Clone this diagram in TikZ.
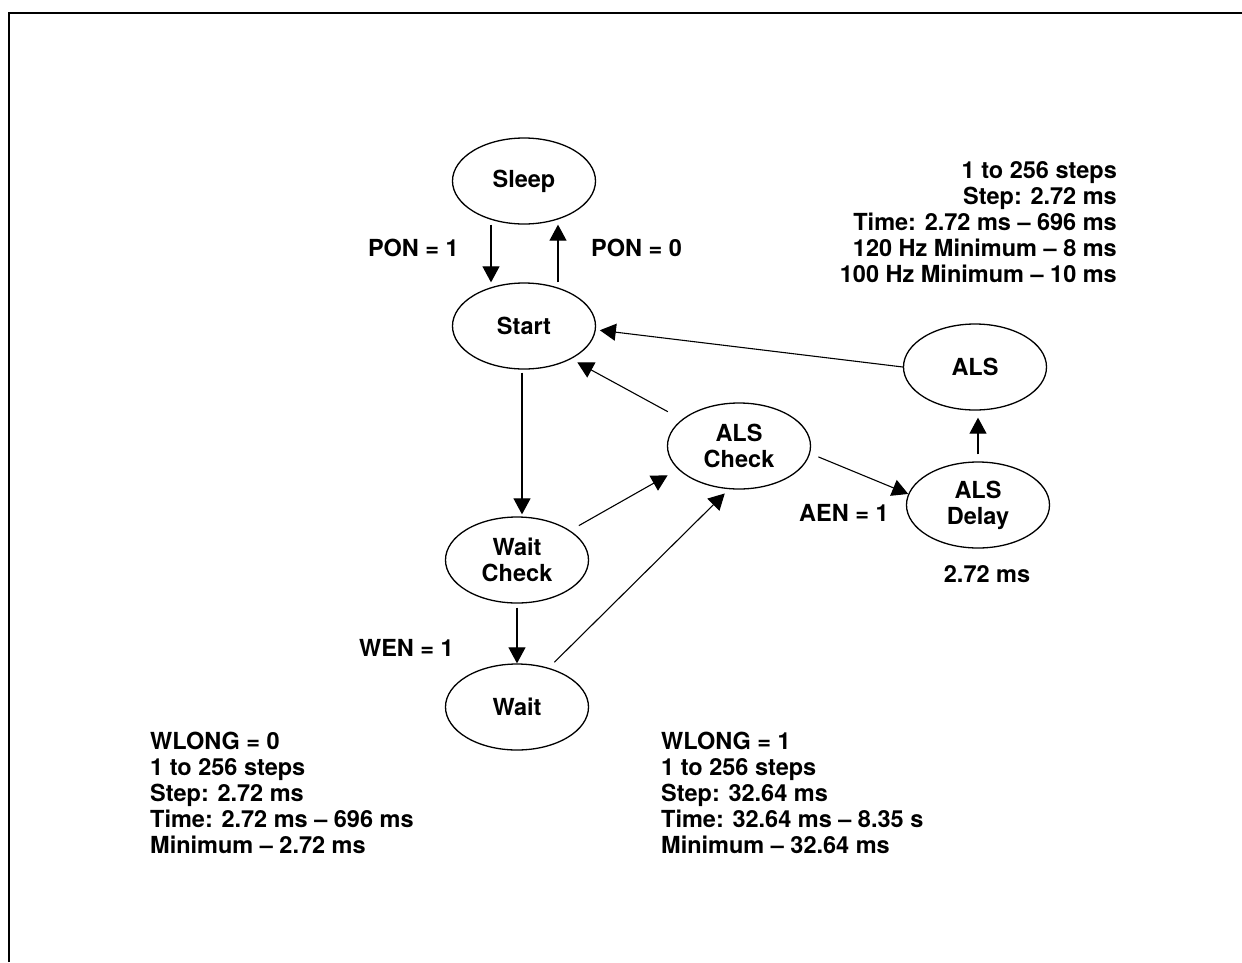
\documentclass[tikz,border=0pt]{standalone}
\usepackage{fontspec}
\setmainfont{TeX Gyre Heros}
\usetikzlibrary{arrows.meta,shapes.geometric}

\begin{document}
\begin{tikzpicture}[
  x=1pt, y=-1pt,
  every node/.style={font=\fontsize{23.5}{26}\selectfont\bfseries, inner sep=0pt},
  state/.style={
    draw, ellipse, line width=1.3pt,
    minimum width=143pt, minimum height=86pt, align=center,
  },
  trans/.style={-{Triangle[length=16pt,width=17pt]}, line width=1.1pt},
  note/.style={align=left},
]
  \useasboundingbox (0,0) rectangle (1242,962);
  % Open frame (top and left edges)
  \draw[line width=2.2pt] (9,962) -- (9,13) -- (1242,13);

  % States
  \node[state] (sleep)     at (524,181) {Sleep};
  \node[state] (start)     at (524,326) {Start};
  \node[state] (als)       at (975,367) {ALS};
  \node[state] (alscheck)  at (739,446) {ALS\\Check};
  \node[state] (alsdelay)  at (978,505) {ALS\\Delay};
  \node[state] (waitcheck) at (517,560) {Wait\\Check};
  \node[state] (wait)      at (517,707) {Wait};

  % Transitions
  \draw[trans] ([xshift=-33pt]sleep.south) -- ([xshift=-33pt]start.north);
  \draw[trans] ([xshift=34pt]start.north) -- ([xshift=34pt]sleep.south);
  \draw[trans, shorten <=3pt, shorten >=2pt]
    ([xshift=-2pt]start.south) -- ([xshift=-2pt]start.south |- waitcheck.north);
  \draw[trans, shorten <=4pt] (waitcheck.south) -- (wait.north);
  \draw[trans, shorten <=10pt, shorten >=12pt] (waitcheck.29) -- (alscheck.201);
  \draw[trans, shorten <=8pt, shorten >=6pt] (wait.51) -- (alscheck.257);
  \draw[trans, shorten <=16pt, shorten >=7pt] (alscheck.155) -- (start.-35);
  \draw[trans, shorten >=4pt] (als.west) -- (start.-3);
  \draw[trans, shorten <=9pt] (alscheck.-6) -- (alsdelay.171);
  \draw[trans, shorten <=7pt, shorten >=7pt]
    (alsdelay.north) -- (alsdelay.north |- als.south);

  % Transition conditions
  \node[anchor=base east] (pon1) at (459,256) {PON = 1};
  \node[anchor=base west] (pon0) at (591,256) {PON = 0};
  \node[anchor=base east] (wen)  at (454,656) {WEN = 1};
  \node[anchor=base west] (aen)  at (799,521) {AEN = 1};
  \node[anchor=base] (delaytime) at (987,582) {2.72 ms};

  % Timing notes (base = last line)
  \node[note, align=right, anchor=base east] (alstiming) at (1117,282)
    {1 to 256 steps\\Step: 2.72 ms\\Time: 2.72 ms -- 696 ms\\
     120 Hz Minimum -- 8 ms\\100 Hz Minimum -- 10 ms};
  \node[note, anchor=base west] (wlong0) at (150,853)
    {WLONG = 0\\1 to 256 steps\\Step: 2.72 ms\\Time: 2.72 ms -- 696 ms\\
     Minimum -- 2.72 ms};
  \node[note, anchor=base west] (wlong1) at (661,853)
    {WLONG = 1\\1 to 256 steps\\Step: 32.64 ms\\Time: 32.64 ms -- 8.35 s\\
     Minimum -- 32.64 ms};
\end{tikzpicture}
\end{document}
